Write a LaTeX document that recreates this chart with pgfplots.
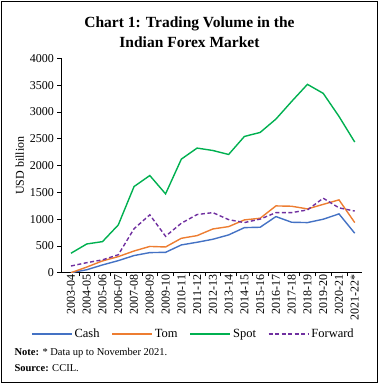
\documentclass[border=0pt]{standalone}
\usepackage{pgfplots}
\pgfplotsset{compat=1.18}
\usepackage{fontspec}
\setmainfont{Liberation Serif}
\definecolor{cashc}{RGB}{68,114,196}
\definecolor{tomc}{RGB}{237,125,49}
\definecolor{spotc}{RGB}{0,176,80}
\definecolor{fwdc}{RGB}{112,48,160}
\begin{document}
\begin{tikzpicture}
\useasboundingbox (0pt,0pt) rectangle (379pt,384pt);
\draw[line width=0.9pt] (1.2pt,1.2pt) rectangle (377.8pt,382.8pt);
\node[align=center, font=\fontsize{15.5}{20}\selectfont\bfseries] at (189.5pt,352pt) {Chart 1: Trading Volume in the\\Indian Forex Market};
\begin{axis}[
  at={(61pt,111.3pt)}, anchor=south west,
  scale only axis, width=301pt, height=214.4pt,
  xmin=-0.633, xmax=18.46, ymin=0, ymax=4000,
  axis lines*=left,
  axis line style={line width=0.6pt},
  tick align=outside,
  major tick length=3.5pt,
  tick style={black, line width=0.6pt},
  ytick={0,500,...,4000},
  xtick={0.5,1.5,...,17.5},
  xticklabels={},
  extra x ticks={0,1,...,18},
  extra x tick labels={2003-04,2004-05,2005-06,2006-07,2007-08,2008-09,2009-10,2010-11,2011-12,2012-13,2013-14,2014-15,2015-16,2016-17,2017-18,2018-19,2019-20,2020-21,2021-22*},
  extra x tick style={major tick length=0pt, xticklabel style={rotate=90, anchor=east, inner sep=2pt}},
  ticklabel style={font=\fontsize{12}{13}\selectfont},
  /pgf/number format/assume math mode=true,
  /pgf/number format/1000 sep={},
  ylabel={USD billion},
  ylabel style={at={(axis description cs:-0.137,0.5)}, anchor=center, font=\fontsize{12}{13}\selectfont},
  legend style={at={(0.44,-0.286)}, anchor=center, draw=none, fill=none, legend columns=4,
    font=\fontsize{12.5}{14}\selectfont,
    /tikz/every even column/.append style={column sep=10pt}},
  legend image code/.code={\draw[#1] (0pt,0pt) -- (40pt,0pt);},
]
\addplot[color=cashc, line width=1.4pt] coordinates {(0,0) (1,55) (2,145) (3,225) (4,320) (5,375) (6,380) (7,518) (8,568) (9,624) (10,705) (11,841) (12,848) (13,1047) (14,941) (15,935) (16,998) (17,1097) (18,736)};
\addlegendentry{Cash}
\addplot[color=tomc, line width=1.4pt] coordinates {(0,0) (1,105) (2,220) (3,300) (4,405) (5,490) (6,480) (7,642) (8,692) (9,816) (10,860) (11,985) (12,1016) (13,1246) (14,1240) (15,1190) (16,1275) (17,1359) (18,935)};
\addlegendentry{Tom}
\addplot[color=spotc, line width=1.4pt] coordinates {(0,363) (1,536) (2,580) (3,891) (4,1607) (5,1813) (6,1471) (7,2119) (8,2325) (9,2280) (10,2206) (11,2542) (12,2617) (13,2866) (14,3196) (15,3514) (16,3346) (17,2916) (18,2437)};
\addlegendentry{Spot}
\addplot[color=fwdc, line width=1.4pt, dash pattern=on 4pt off 2.5pt] coordinates {(0,125) (1,187) (2,240) (3,335) (4,820) (5,1080) (6,680) (7,923) (8,1085) (9,1121) (10,990) (11,935) (12,1000) (13,1121) (14,1121) (15,1171) (16,1390) (17,1210) (18,1150)};
\addlegendentry{Forward}
\end{axis}
\node[anchor=west, font=\fontsize{10.5}{12}\selectfont] at (11pt,31pt) {\textbf{Note:} * Data up to November 2021.};
\node[anchor=west, font=\fontsize{10.5}{12}\selectfont] at (11pt,16pt) {\textbf{Source:} CCIL.};
\end{tikzpicture}
\end{document}
